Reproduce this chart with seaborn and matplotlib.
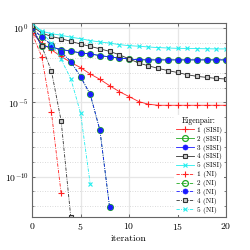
import numpy as np
import pandas as pd
import matplotlib
matplotlib.use("Agg")
import matplotlib.pyplot as plt
import seaborn as sns
from matplotlib.ticker import NullFormatter, FixedLocator

# ---- data (log10 of residual norm) ----
iters_sisi = list(range(21))
sisi_1 = [-0.33, -0.98, -1.45, -1.90, -2.30, -2.65, -3.08, -3.44, -3.87, -4.27, -4.60,
          -4.94, -5.12, -5.19, -5.19, -5.19, -5.19, -5.19, -5.19, -5.19, -5.19]
sisi_2 = [0.00, -1.20, -1.27, -1.43, -1.54, -1.66, -1.73, -1.84, -1.93, -2.00, -2.07,
          -2.12, -2.13, -2.13, -2.13, -2.13, -2.13, -2.13, -2.13, -2.13, -2.13]
sisi_3 = [0.00, -1.20, -1.27, -1.43, -1.54, -1.66, -1.73, -1.84, -1.93, -2.00, -2.07,
          -2.12, -2.13, -2.13, -2.13, -2.13, -2.13, -2.13, -2.13, -2.13, -2.13]
sisi_4 = [0.15, -0.32, -0.55, -0.70, -0.88, -1.06, -1.22, -1.38, -1.56, -1.78, -2.06,
          -2.34, -2.53, -2.70, -2.85, -2.98, -3.13, -3.24, -3.31, -3.38, -3.42]
sisi_5 = [0.34, -0.20, -0.36, -0.47, -0.60, -0.70, -0.83, -0.92, -1.00, -1.10, -1.17,
          -1.21, -1.26, -1.30, -1.33, -1.35, -1.36, -1.37, -1.38, -1.39, -1.39]

ni_1 = [-0.33, -1.91, -5.66, -11.10]
ni_2 = [0.00, -0.60, -1.10, -1.60, -2.24, -3.26, -4.45, -6.87, -12.06]
ni_3 = [0.00, -0.60, -1.10, -1.60, -2.24, -3.26, -4.45, -6.87, -12.06]
ni_4 = [0.15, -1.20, -2.87, -6.23, -12.74]
ni_5 = [0.34, -0.25, -1.00, -2.10, -3.39, -5.70, -10.49]

labels_sisi = ["1 (SISI)", "2 (SISI)", "3 (SISI)", "4 (SISI)", "5 (SISI)"]
labels_ni = ["1 (NI)", "2 (NI)", "3 (NI)", "4 (NI)", "5 (NI)"]
legend_title = "Eigenpair:"
x_label = "iteration"

# ---- style ----
plt.rcParams.update({
    "font.family": "serif",
    "font.serif": ["cmr10", "DejaVu Serif"],
    "mathtext.fontset": "cm",
    "axes.formatter.use_mathtext": True,
    "axes.unicode_minus": False,
})

colors = ["#ff2020", "#22aa22", "#1a1aff", "#333333", "#22eeee"]
styles = [
    dict(marker="+", markersize=4, markeredgewidth=0.8, markerfacecolor="none"),
    dict(marker="o", markersize=4.2, markeredgewidth=0.9, markerfacecolor="none"),
    dict(marker="o", markersize=3.6, markeredgewidth=0.5, markerfacecolor="#1a1aff"),
    dict(marker="s", markersize=3.0, markeredgewidth=0.8, markerfacecolor="#cccccc"),
    dict(marker="x", markersize=3.2, markeredgewidth=0.8, markerfacecolor="none"),
]

fig = plt.figure(figsize=(2.5, 2.5), dpi=100)
ax = fig.add_axes([0.128, 0.131, 0.776, 0.776])

def draw(xs, logs, label, color, st, ls):
    df = pd.DataFrame({"iteration": xs, "res": [10.0 ** v for v in logs]})
    sns.lineplot(data=df, x="iteration", y="res", ax=ax, color=color,
                 linestyle=ls, linewidth=0.6, label=label, errorbar=None,
                 sort=False, markeredgecolor=color, **st)

sisi = [sisi_1, sisi_2, sisi_3, sisi_4, sisi_5]
ni = [ni_1, ni_2, ni_3, ni_4, ni_5]
for i in range(5):
    draw(iters_sisi, sisi[i], labels_sisi[i], colors[i], styles[i], "-")
for i in range(5):
    draw(list(range(len(ni[i]))), ni[i], labels_ni[i], colors[i], styles[i], (0, (4, 1.5, 1, 1.5)))

ax.set_yscale("log")
all_logs = sum(sisi + ni, [])
ax.set_ylim(10.0 ** min(all_logs), 10.0 ** max(all_logs))
ax.set_xlim(0, 20)
ax.set_xticks([0, 5, 10, 15, 20])
ax.yaxis.set_major_locator(FixedLocator([1e0, 1e-5, 1e-10]))
ax.yaxis.set_minor_locator(FixedLocator([10.0 ** -k for k in range(13) if k % 5]))
ax.yaxis.set_minor_formatter(NullFormatter())

ax.grid(which="major", color="#e6e6e6", linewidth=0.9, linestyle="-")
ax.grid(which="minor", axis="y", color="#cfcfcf", linewidth=0.6, linestyle=(0, (1, 2)))
ax.set_axisbelow(True)

ax.tick_params(which="both", direction="in", top=True, right=True, labelsize=7,
               color="#555555", pad=2.5)
ax.tick_params(which="major", length=2.5, width=0.6)
ax.tick_params(which="minor", length=1.5, width=0.5)
for s in ax.spines.values():
    s.set_color("#666666")
    s.set_linewidth(0.8)

ax.set_xlabel(x_label, fontsize=7, labelpad=2)
ax.set_ylabel("")

leg = ax.legend(title=legend_title, loc="lower right", bbox_to_anchor=(1.0, 0.0),
                fontsize=5.2, title_fontsize=5.5, frameon=True, framealpha=1,
                edgecolor="none", facecolor="white", handlelength=2.6,
                handletextpad=0.4, labelspacing=0.25, borderaxespad=0.3,
                borderpad=0.2)

fig.savefig("out.png", dpi=100)
